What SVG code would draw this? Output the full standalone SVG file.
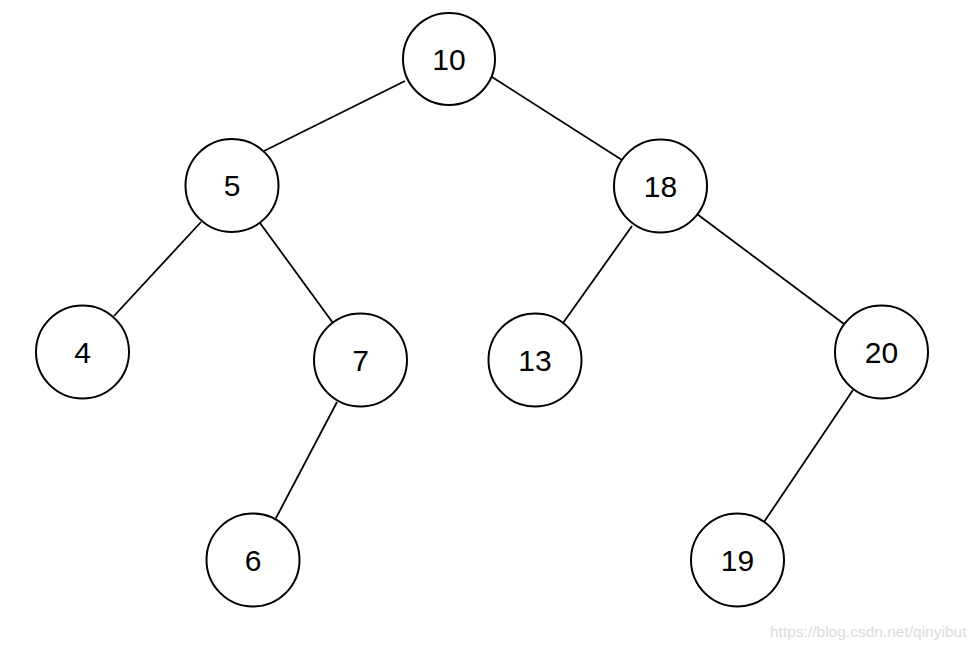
<svg xmlns="http://www.w3.org/2000/svg" width="980" height="650" viewBox="0 0 980 650">
<style>
.n circle{fill:#fff;stroke:#000;stroke-width:2}
.n text{font-family:"Liberation Sans",Arial,sans-serif;font-size:30px;fill:#000;text-anchor:middle;dominant-baseline:central}
#edges line{stroke:#000;stroke-width:1.8}
.wm{font-family:"Liberation Sans",Arial,sans-serif;font-size:15.5px;fill:#dcdcdc}
</style>
<rect width="980" height="650" fill="#fff"/>
<g id="edges">
<line x1="405" y1="81" x2="264" y2="151"/>
<line x1="492" y1="77" x2="622" y2="160"/>
<line x1="201" y1="222" x2="114" y2="316"/>
<line x1="260" y1="223" x2="333" y2="323"/>
<line x1="337" y1="402" x2="276" y2="518"/>
<line x1="632" y1="226" x2="563" y2="323"/>
<line x1="697" y1="214" x2="844" y2="324"/>
<line x1="853" y1="390" x2="764" y2="522"/>
</g>
<g id="n10" class="n"><circle cx="449" cy="59" r="46"/><text x="449" y="59">10</text></g>
<g id="n5" class="n"><circle cx="232" cy="185.5" r="46.5"/><text x="232" y="185.5">5</text></g>
<g id="n18" class="n"><circle cx="660.5" cy="186" r="46.5"/><text x="660.5" y="186">18</text></g>
<g id="n4" class="n"><circle cx="82.5" cy="352" r="46.5"/><text x="82.5" y="352">4</text></g>
<g id="n7" class="n"><circle cx="360.5" cy="360" r="46.5"/><text x="360.5" y="360">7</text></g>
<g id="n13" class="n"><circle cx="535" cy="360" r="46.5"/><text x="535" y="360">13</text></g>
<g id="n20" class="n"><circle cx="881.5" cy="352" r="46.5"/><text x="881.5" y="352">20</text></g>
<g id="n6" class="n"><circle cx="253" cy="560" r="46.5"/><text x="253" y="560">6</text></g>
<g id="n19" class="n"><circle cx="737.5" cy="560" r="46.5"/><text x="737.5" y="560">19</text></g>
<text class="wm" x="770" y="637">https://blog.csdn.net/qinyibut</text>
</svg>
